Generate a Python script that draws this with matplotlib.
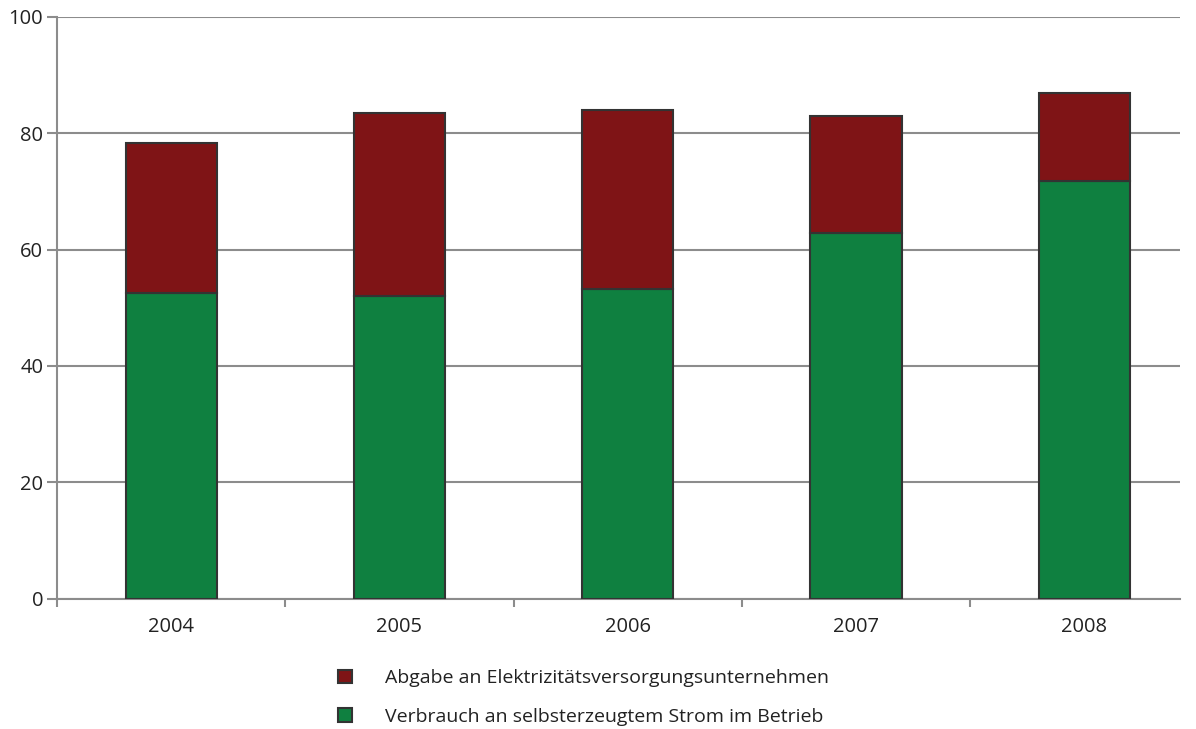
import matplotlib.pyplot as plt
import numpy as np

# Werte
jahre = ['2004', '2005', '2006', '2007', '2008']
verbrauch = [52.5, 52.1, 53.2, 62.9, 71.8]
gesamt = [78.4, 83.5, 84.0, 83.0, 86.9]
abgabe = [g - v for g, v in zip(gesamt, verbrauch)]

label_abgabe = 'Abgabe an Elektrizitätsversorgungsunternehmen'
label_verbrauch = 'Verbrauch an selbsterzeugtem Strom im Betrieb'

plt.rcParams['font.family'] = ['Open Sans', 'DejaVu Sans']

rot = '#7F1416'
gruen = '#0F8040'
rand = '#333333'
grau = '#8C8C8C'

fig = plt.figure(figsize=(11.96, 7.29), dpi=100)
ax = fig.add_axes([0.0477, 0.179, 0.939, 0.7977])

x = np.arange(len(jahre))
b1 = ax.bar(x, verbrauch, width=0.4, color=gruen, edgecolor=rand, linewidth=1.5, zorder=3,
            label=label_verbrauch)
b2 = ax.bar(x, abgabe, bottom=verbrauch, width=0.4, color=rot, edgecolor=rand, linewidth=1.5,
            zorder=3, label=label_abgabe)

ax.set_ylim(0, 100)
ax.set_xlim(-0.5, 4.42)
ax.set_yticks(range(0, 101, 20))
ax.yaxis.grid(True, color=grau, linewidth=1.5, zorder=0)

ax.set_xticks(x)
ax.set_xticklabels(jahre)
ax.tick_params(axis='x', which='major', length=0, pad=13, labelsize=14.5, labelcolor='#222222')
ax.set_xticks(np.arange(-0.5, 4, 1), minor=True)
ax.tick_params(axis='x', which='minor', length=6, width=1.5, color=grau, direction='out')
ax.tick_params(axis='y', length=7, width=1.5, color=grau, labelsize=14.5, labelcolor='#222222', pad=3)

for s in ['top', 'right']:
    ax.spines[s].set_visible(False)
for s in ['left', 'bottom']:
    ax.spines[s].set_color(grau)
    ax.spines[s].set_linewidth(1.5)

fig.legend(handles=[b2, b1], labels=[label_abgabe, label_verbrauch],
           loc='upper left', bbox_to_anchor=(0.268, 0.106), frameon=False,
           fontsize=14, handlelength=0.7, handleheight=0.7, handletextpad=1.7,
           labelspacing=1.05, labelcolor='#222222')

fig.savefig('out.png', dpi=100)
